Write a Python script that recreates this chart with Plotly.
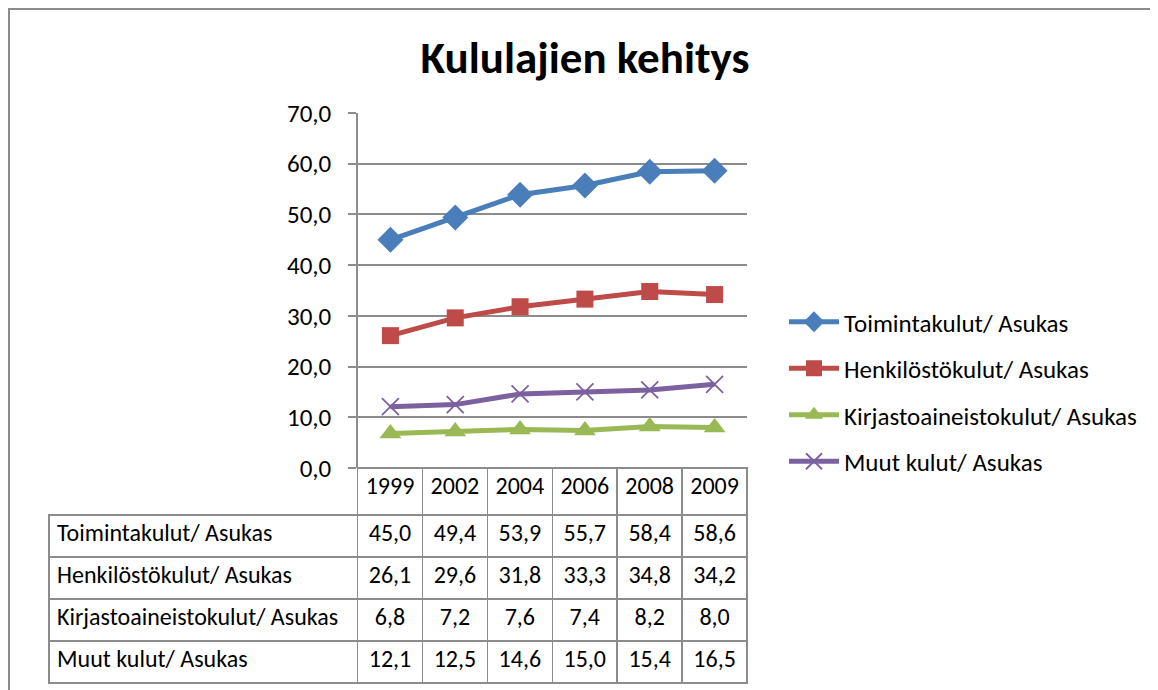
import plotly.graph_objects as go

# page body adds an 8px margin, so the figure is slightly smaller than the window
OFF = 8
W, H = 1142, 682

# ---- data ----
years = ["1999", "2002", "2004", "2006", "2008", "2009"]
series_names = [
    "Toimintakulut/ Asukas",
    "Henkilöstökulut/ Asukas",
    "Kirjastoaineistokulut/ Asukas",
    "Muut kulut/ Asukas",
]
toimintakulut = [45.0, 49.4, 53.9, 55.7, 58.4, 58.6]
henkilostokulut = [26.1, 29.6, 31.8, 33.3, 34.8, 34.2]
kirjastoaineistokulut = [6.8, 7.2, 7.6, 7.4, 8.2, 8.0]
muut_kulut = [12.1, 12.5, 14.6, 15.0, 15.4, 16.5]
y_ticks = [0, 10, 20, 30, 40, 50, 60, 70]

series_values = [toimintakulut, henkilostokulut, kirjastoaineistokulut, muut_kulut]

# ---- style ----
FONT = "Carlito, Calibri, Lato, sans-serif"
FS = 25
GRID = "#8c8c8c"
colors = ["#4a7ebb", "#be4b48", "#98b954", "#7d60a0"]
symbols = ["diamond", "square", "triangle-up", "x-thin"]
sizes = [20, 17, 19, 17]


# screen pixel -> paper fraction
def px(x):
    return (x - OFF) / W


def py(y):
    return (H - (y - OFF)) / H


fig = go.Figure()

for i, (name, vals) in enumerate(zip(series_names, series_values)):
    marker = dict(symbol=symbols[i], size=sizes[i], color=colors[i])
    if symbols[i] == "x-thin":
        marker["line"] = dict(color=colors[i], width=1.8)
    fig.add_trace(go.Scatter(
        x=years, y=vals, name=name, mode="lines+markers",
        line=dict(color=colors[i], width=5),
        marker=marker,
        legendgroup=f"g{i}",
    ))

# data table under the chart
fmt = lambda v: f"{v:.1f}".replace(".", ",")
fig.add_trace(go.Table(
    domain=dict(x=[px(49), px(747)], y=[py(684), py(468)]),
    columnwidth=[309] + [65] * len(years),
    header=dict(
        values=[""] + years,
        fill_color=["rgba(0,0,0,0)"] + ["white"] * len(years),
        line=dict(color=["rgba(0,0,0,0)"] + [GRID] * len(years), width=1.5),
        font=dict(family=FONT, size=24, color="black"),
        align="center",
        height=47,
    ),
    cells=dict(
        values=[series_names] + [[fmt(s[j]) for s in series_values] for j in range(len(years))],
        fill_color="white",
        line=dict(color=GRID, width=1.5),
        font=dict(family=FONT, size=24, color="black"),
        align=["left"] + ["center"] * len(years),
        height=42,
    ),
))

fig.update_layout(
    width=W, height=H,
    margin=dict(l=0, r=0, t=0, b=0, autoexpand=False),
    paper_bgcolor="white",
    plot_bgcolor="white",
    separators=", ",
    font=dict(family=FONT, size=FS, color="black"),
    title=dict(
        text="<b>Kululajien kehitys</b>",
        x=px(585), xanchor="center", y=py(57), yanchor="middle",
        font=dict(family=FONT, size=45, color="black"),
    ),
    xaxis=dict(
        domain=[px(358), px(747)],
        range=[-0.5, 5.5],
        showticklabels=False, showgrid=False, showline=False, zeroline=False,
        ticks="", automargin=False,
    ),
    yaxis=dict(
        domain=[py(468), py(113)],
        range=[0, 70],
        tickvals=y_ticks,
        tickformat=".1f",
        showgrid=True, gridcolor=GRID, gridwidth=1.5,
        showline=True, linecolor=GRID, linewidth=1.5,
        zeroline=False, automargin=False,
        ticks="outside", ticklen=8, tickcolor=GRID, tickwidth=1.5,
        ticklabelstandoff=12,
        tickfont=dict(family=FONT, size=FS, color="black"),
    ),
    legend=dict(
        x=px(784), y=py(299), xanchor="left", yanchor="top",
        font=dict(family=FONT, size=FS, color="black"),
        tracegroupgap=11,
        itemwidth=50,
        bgcolor="rgba(0,0,0,0)",
    ),
    showlegend=True,
    shapes=[dict(
        type="rect", xref="paper", yref="paper",
        x0=1 / W, x1=1.05, y0=-0.05, y1=1 - 1 / H,
        line=dict(color=GRID, width=2), fillcolor="rgba(0,0,0,0)",
        layer="below",
    )],
)

fig.write_html("out.html")
